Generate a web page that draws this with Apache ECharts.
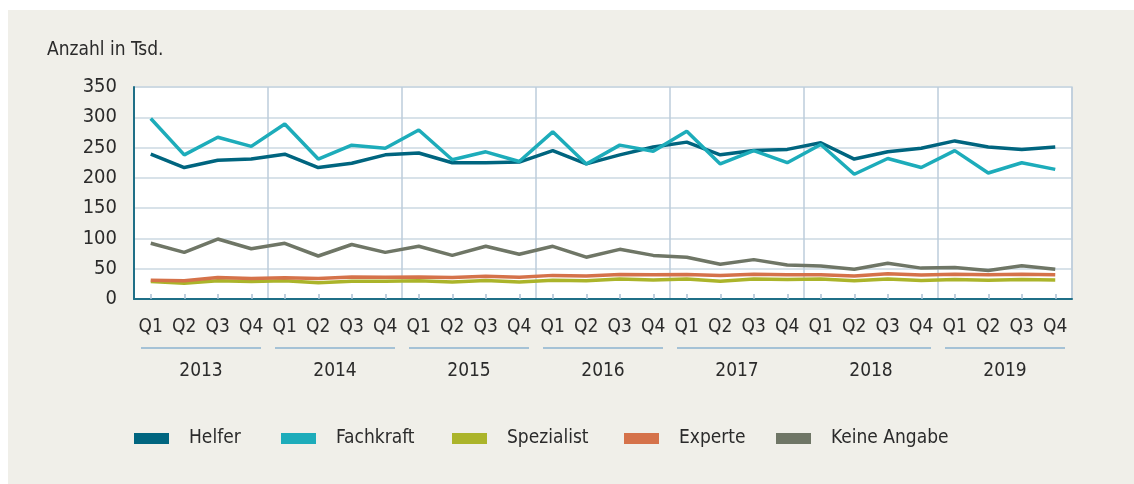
<!DOCTYPE html>
<html>
<head>
<meta charset="utf-8">
<script src="https://cdn.jsdelivr.net/npm/echarts@6/dist/echarts.min.js"></script>
<style>
html, body { margin: 0; padding: 0; background: #fff; }
#panel { position: absolute; left: 8px; top: 10px; right: 0; bottom: 0; background: #f0efe9; }
#chart { position: absolute; left: 0; top: 0; width: 1134px; height: 484px; }
</style>
</head>
<body>
<div id="panel"></div>
<div id="chart"></div>
<script>
// Jahre und Quartale
var years = ["2013", "2014", "2015", "2016", "2017", "2018", "2019"];
var quarters = ["Q1", "Q2", "Q3", "Q4"];
// Unterstreichungen unter den Quartalen (Index erstes / letztes Quartal)
var yearLineSpans = [[0, 3], [4, 7], [8, 11], [12, 15], [16, 23], [24, 27]];

// Werte in Tsd.
var helfer = [239, 217, 229, 231, 239, 217, 224, 238, 241, 225, 225, 226, 245, 223, 238, 251, 259, 238, 245, 247, 258, 231, 243, 249, 261, 251, 247, 251];
var fachkraft = [298, 238, 267, 252, 289, 231, 254, 249, 279, 230, 243, 227, 276, 223, 254, 244, 277, 223, 245, 225, 255, 206, 232, 217, 245, 208, 225, 214];
var spezialist = [29, 26, 30, 29, 30, 27, 29.5, 29.5, 30, 28, 30.5, 28, 31, 30, 33, 31.5, 33, 29.5, 33, 32, 33, 30, 33, 30.5, 32, 31, 32, 31.5];
var experte = [31, 30, 35.5, 34, 35, 34, 36.5, 36, 36.5, 35.5, 37.5, 36, 39, 38, 40.5, 40, 40.5, 39, 41, 40, 40, 38, 41.5, 39.5, 41, 40, 41, 40];
var keineAngabe = [92, 77, 99, 83, 92, 71, 90, 77, 87, 72, 87, 74, 87, 69, 82, 72, 69, 57.5, 65, 56, 54.5, 49, 59, 51, 52, 47, 55, 49];

var seriesNames = ["Helfer", "Fachkraft", "Spezialist", "Experte", "Keine Angabe"];
var seriesData = [helfer, fachkraft, spezialist, experte, keineAngabe];
var colors = ["#00657f", "#1dacba", "#abb42a", "#d5724a", "#6f7666"];
var legendLeft = [134, 281, 452, 624, 776];

var categories = [];
years.forEach(function (y) {
  quarters.forEach(function (q) { categories.push(y + " " + q); });
});

var font = "'Liberation Sans Narrow', 'DejaVu Sans Condensed', sans-serif";
var textColor = "#2b2b2b";
var axisColor = "#1f6f87";

var myChart = echarts.init(document.getElementById("chart"), null, { renderer: "canvas" });

var legends = seriesNames.map(function (name, i) {
  return {
    data: [name],
    left: legendLeft[i],
    top: 429,
    padding: 0,
    icon: "rect",
    itemWidth: 35,
    itemHeight: 11,
    selectedMode: false,
    textStyle: { fontFamily: font, fontSize: 19, color: textColor, padding: [0, 0, 0, 15] }
  };
});

myChart.setOption({
  animation: false,
  textStyle: { fontFamily: font },
  title: {
    text: "Anzahl in Tsd.",
    left: 47,
    top: 41,
    padding: 0,
    textStyle: { fontFamily: font, fontSize: 19, fontWeight: "normal", color: textColor }
  },
  legend: legends,
  grid: {
    left: 134, right: 62, top: 87, bottom: 185,
    show: true, backgroundColor: "#ffffff", borderColor: "#c9d6e0", borderWidth: 1.5
  },
  xAxis: [
    {
      type: "category",
      data: categories,
      boundaryGap: true,
      axisLine: { lineStyle: { color: axisColor, width: 2 } },
      axisTick: { show: true, inside: true, alignWithLabel: true, length: 5, lineStyle: { color: "#a9c0d3", width: 1.5 } },
      axisLabel: {
        interval: 0, margin: 19, fontSize: 19, color: textColor, fontFamily: font,
        formatter: function (v) { return v.split(" ")[1]; }
      },
      splitLine: {
        show: true,
        interval: function (i) { return i % 4 === 0; },
        lineStyle: { color: "#bccddb", width: 1.5 }
      }
    },
    {
      type: "category",
      data: years,
      position: "bottom",
      offset: 55,
      boundaryGap: true,
      axisLine: { show: false },
      axisTick: { show: false },
      splitLine: { show: false },
      axisLabel: { interval: 0, margin: 8, fontSize: 19, color: textColor, fontFamily: font }
    }
  ],
  yAxis: {
    type: "value",
    min: 0, max: 350, interval: 50,
    axisLine: { show: true, lineStyle: { color: axisColor, width: 2 } },
    axisTick: { show: false },
    axisLabel: { margin: 17, fontSize: 20, color: textColor, fontFamily: font },
    splitLine: { lineStyle: { color: "#cbd8e2", width: 1.5 } }
  },
  series: seriesNames.map(function (name, i) {
    return {
      name: name,
      type: "line",
      data: seriesData[i],
      symbol: "none",
      color: colors[i],
      lineStyle: { width: 3.5, color: colors[i] }
    };
  })
});

// Linien unter den Quartalen, Positionen ueber die Achse berechnet
var x0 = myChart.convertToPixel({ xAxisIndex: 0 }, categories[0]);
var x1 = myChart.convertToPixel({ xAxisIndex: 0 }, categories[1]);
var half = (x1 - x0) / 2;
var lineY = myChart.convertToPixel({ yAxisIndex: 0 }, 0) + 49;
myChart.setOption({
  graphic: yearLineSpans.map(function (s) {
    var a = myChart.convertToPixel({ xAxisIndex: 0 }, categories[s[0]]) - half + 7;
    var b = myChart.convertToPixel({ xAxisIndex: 0 }, categories[s[1]]) + half - 7;
    return {
      type: "line",
      shape: { x1: a, y1: lineY, x2: b, y2: lineY },
      style: { stroke: "#8db3cf", lineWidth: 1.5 }
    };
  })
});

window.addEventListener("resize", function () { myChart.resize(); });
</script>
</body>
</html>
